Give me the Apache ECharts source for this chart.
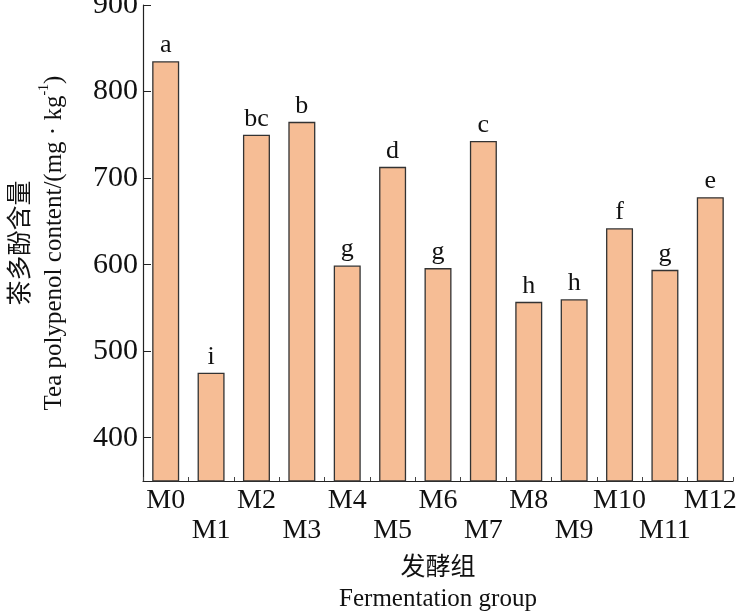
<!DOCTYPE html>
<html>
<head>
<meta charset="utf-8">
<script src="https://cdn.jsdelivr.net/npm/echarts@6/dist/echarts.min.js"></script>
<style>
  html, body { margin: 0; padding: 0; background: #fff; }
  #chart { width: 744px; height: 615px; }
</style>
</head>
<body>
<div id="chart"></div>
<script>
const groups = ["M0", "M1", "M2", "M3", "M4", "M5", "M6", "M7", "M8", "M9", "M10", "M11", "M12"];
const polyphenol = [835, 475, 750, 765, 599, 713, 596, 743, 557, 560, 642, 594, 678];
const letters = ["a", "i", "bc", "b", "g", "d", "g", "c", "h", "h", "f", "g", "e"];
const yTicks = [400, 500, 600, 700, 800, 900];

const serif = '"Liberation Serif", "Noto Sans CJK SC", serif';
const cjk = '"Noto Sans CJK SC", "Liberation Serif", serif';

const chart = echarts.init(document.getElementById("chart"));

const option = {
  animation: false,
  grid: { left: 143, right: 11, top: 5, bottom: 134, containLabel: false, outerBoundsMode: "none" },
  xAxis: {
    type: "category",
    data: groups,
    name: "{cn|发酵组}\n{en|Fermentation group}",
    nameLocation: "middle",
    nameGap: 66,
    nameTextStyle: {
      rich: {
        cn: { fontFamily: cjk, fontSize: 25, color: "#111", lineHeight: 36 },
        en: { fontFamily: serif, fontSize: 25, color: "#111", lineHeight: 32 }
      }
    },
    axisLine: { show: true, lineStyle: { color: "#222", width: 1.2 } },
    axisTick: { show: true, inside: true, length: 4, alignWithLabel: false, lineStyle: { color: "#444" } },
    axisLabel: {
      interval: 0,
      margin: 5,
      fontFamily: serif,
      fontSize: 28,
      color: "#111",
      lineHeight: 30,
      formatter: (v, i) => (i % 2 ? "\n" + v : v)
    }
  },
  yAxis: {
    type: "value",
    min: 350,
    max: 900,
    name: "{cn|茶多酚含量}\n{en|Tea polypenol content/(mg · kg}{sup|-1}{en|)}",
    nameLocation: "middle",
    nameRotate: 90,
    nameGap: 72,
    nameTextStyle: {
      rich: {
        cn: { fontFamily: cjk, fontSize: 25, color: "#111", lineHeight: 38 },
        en: { fontFamily: serif, fontSize: 25, color: "#111", lineHeight: 34 },
        sup: { fontFamily: serif, fontSize: 14, color: "#111", verticalAlign: "top", padding: [0, 0, 12, 0] }
      }
    },
    splitLine: { show: false },
    axisLine: { show: true, lineStyle: { color: "#222", width: 1.2 } },
    axisTick: {
      show: true,
      inside: true,
      length: 8,
      lineStyle: { color: "#222" },
      customValues: yTicks
    },
    axisLabel: {
      margin: 5,
      fontFamily: serif,
      fontSize: 30,
      color: "#111",
      customValues: yTicks
    }
  },
  series: [
    {
      type: "bar",
      data: polyphenol,
      barWidth: 27,
      itemStyle: { color: "#F6BD95", borderColor: "#333", borderWidth: 1.3 },
      label: {
        show: true,
        position: "top",
        distance: 3,
        fontFamily: serif,
        fontSize: 26,
        color: "#111",
        formatter: p => letters[p.dataIndex]
      }
    }
  ]
};

chart.setOption(option);
</script>
</body>
</html>
